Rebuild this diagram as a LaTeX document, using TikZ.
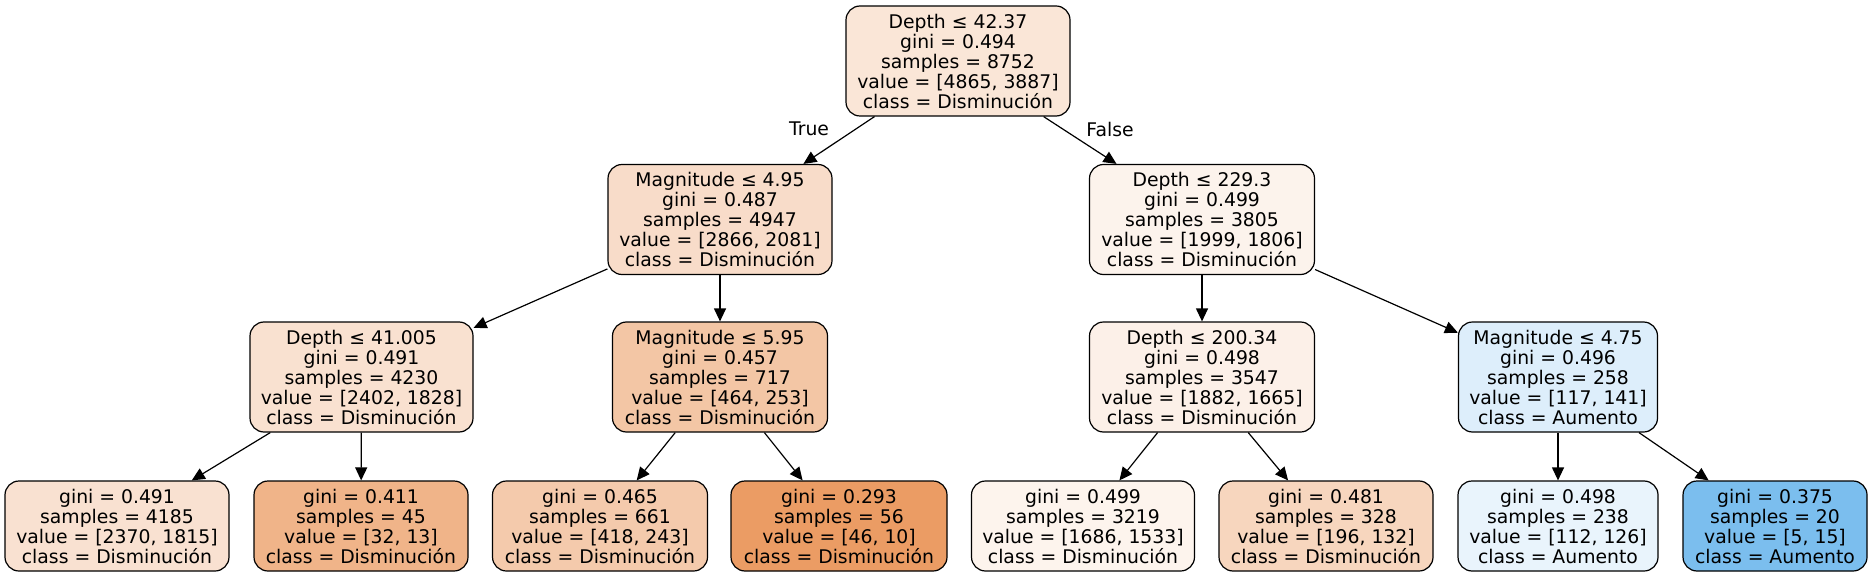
\documentclass[tikz,border=0pt]{standalone}
\usepackage{fontspec}
\setmainfont{DejaVu Sans}
\usetikzlibrary{arrows.meta}
\definecolor{c0}{RGB}{250,230,215}
\definecolor{c1}{RGB}{248,220,201}
\definecolor{c2}{RGB}{252,243,236}
\definecolor{c3}{RGB}{249,225,208}
\definecolor{c4}{RGB}{243,198,165}
\definecolor{c5}{RGB}{252,240,232}
\definecolor{c6}{RGB}{221,238,251}
\definecolor{l1}{RGB}{249,225,209}
\definecolor{l2}{RGB}{240,180,137}
\definecolor{l3}{RGB}{244,202,172}
\definecolor{l4}{RGB}{235,156,100}
\definecolor{l5}{RGB}{253,244,237}
\definecolor{l6}{RGB}{247,214,190}
\definecolor{l7}{RGB}{233,244,252}
\definecolor{l8}{RGB}{123,190,238}
\tikzset{
  tn/.style={draw=black, line width=0.6pt, rounded corners=7pt, align=center, inner sep=0pt,
    font=\fontsize{9.4}{10}\selectfont},
  inode/.style={tn, minimum height=55pt, minimum width=#1},
  lnode/.style={tn, minimum height=45pt, minimum width=#1},
  conn/.style={draw=black, line width=0.6pt, -{Triangle[length=6.5pt,width=6pt]}},
  elab/.style={font=\fontsize{9.4}{10}\selectfont, inner sep=0pt}
}
\begin{document}
\begin{tikzpicture}[x=0.5pt,y=-0.5pt]
\useasboundingbox (0,0) rectangle (1872,577);
\node[inode=112pt, fill=c0] (root) at (958,61) {Depth ≤ 42.37\\gini = 0.494\\samples = 8752\\value = [4865, 3887]\\class = Disminución};
\node[inode=112pt, fill=c1] (m495) at (720,219.5) {Magnitude ≤ 4.95\\gini = 0.487\\samples = 4947\\value = [2866, 2081]\\class = Disminución};
\node[inode=112.5pt, fill=c2] (d229) at (1202,219.5) {Depth ≤ 229.3\\gini = 0.499\\samples = 3805\\value = [1999, 1806]\\class = Disminución};
\node[inode=111.5pt, fill=c3] (d41) at (361.5,377) {Depth ≤ 41.005\\gini = 0.491\\samples = 4230\\value = [2402, 1828]\\class = Disminución};
\node[inode=107.5pt, fill=c4] (m595) at (720,377) {Magnitude ≤ 5.95\\gini = 0.457\\samples = 717\\value = [464, 253]\\class = Disminución};
\node[inode=112.5pt, fill=c5] (d200) at (1202,377) {Depth ≤ 200.34\\gini = 0.498\\samples = 3547\\value = [1882, 1665]\\class = Disminución};
\node[inode=99.5pt, fill=c6] (m475) at (1558,377) {Magnitude ≤ 4.75\\gini = 0.496\\samples = 258\\value = [117, 141]\\class = Aumento};
\node[lnode=112pt, fill=l1] (a1) at (117,526) {gini = 0.491\\samples = 4185\\value = [2370, 1815]\\class = Disminución};
\node[lnode=107pt, fill=l2] (a2) at (361,526) {gini = 0.411\\samples = 45\\value = [32, 13]\\class = Disminución};
\node[lnode=107.5pt, fill=l3] (a3) at (600,526) {gini = 0.465\\samples = 661\\value = [418, 243]\\class = Disminución};
\node[lnode=108pt, fill=l4] (a4) at (839,526) {gini = 0.293\\samples = 56\\value = [46, 10]\\class = Disminución};
\node[lnode=111.5pt, fill=l5] (a5) at (1083,526) {gini = 0.499\\samples = 3219\\value = [1686, 1533]\\class = Disminución};
\node[lnode=107pt, fill=l6] (a6) at (1326,526) {gini = 0.481\\samples = 328\\value = [196, 132]\\class = Disminución};
\node[lnode=100pt, fill=l7] (a7) at (1558,526) {gini = 0.498\\samples = 238\\value = [112, 126]\\class = Aumento};
\node[lnode=92pt, fill=l8] (a8) at (1775,526) {gini = 0.375\\samples = 20\\value = [5, 15]\\class = Aumento};
\draw[conn] (root) -- (m495);
\draw[conn] (root) -- (d229);
\draw[conn] (m495) -- (d41);
\draw[conn] (m495) -- (m595);
\draw[conn] (d229) -- (d200);
\draw[conn] (d229) -- (m475);
\draw[conn] (d41) -- (a1);
\draw[conn] (d41) -- (a2);
\draw[conn] (m595) -- (a3);
\draw[conn] (m595) -- (a4);
\draw[conn] (d200) -- (a5);
\draw[conn] (d200) -- (a6);
\draw[conn] (m475) -- (a7);
\draw[conn] (m475) -- (a8);
\node[elab] (ltrue) at (809,129) {True};
\node[elab] (lfalse) at (1110,129) {False};
\end{tikzpicture}
\end{document}
